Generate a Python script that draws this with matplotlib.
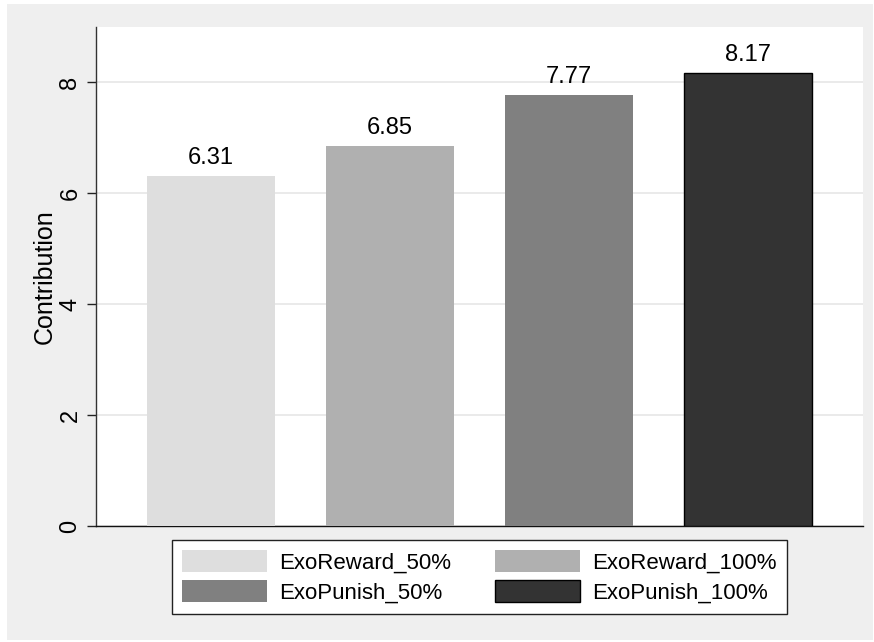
import matplotlib
matplotlib.use("Agg")
import matplotlib.pyplot as plt
from matplotlib.patches import Rectangle

plt.rcParams['font.family'] = ['Liberation Sans', 'DejaVu Sans']

# data
groups = ["ExoReward_50%", "ExoReward_100%", "ExoPunish_50%", "ExoPunish_100%"]
values = [6.31, 6.85, 7.77, 8.17]
colors = ["#dedede", "#b0b0b0", "#808080", "#333333"]
edges = ["none", "none", "none", "#000000"]
yticks = [0, 2, 4, 6, 8]

fig = plt.figure(figsize=(8.74, 6.42), dpi=100, facecolor="white")
W, H = 874, 642
# grey graph region
fig.patches.append(Rectangle((7 / W, 2 / H), 866 / W, 636 / H,
                             transform=fig.transFigure, facecolor="#efefef",
                             edgecolor="none", zorder=-10))

ax = fig.add_axes([96 / W, 1 - 526 / H, (863 - 96) / W, (526 - 27) / H])
ax.set_facecolor("white")

positions = [1, 2, 3, 4]
bars = []
for x, v, c, e, g in zip(positions, values, colors, edges, groups):
    b = ax.bar(x, v, width=0.715, color=c, edgecolor=e, linewidth=1.0,
               label=g, zorder=3)
    bars.append(b)
    ax.annotate(f"{v:.2f}", (x, v), xytext=(0, 5), textcoords="offset points",
                ha="center", va="bottom", fontsize=17)

ax.set_xlim(0.358, 4.642)
ax.set_ylim(0, 8.99)
ax.set_yticks(yticks)
ax.set_yticklabels([str(t) for t in yticks], rotation=90, va="center", fontsize=17)
ax.tick_params(axis="y", length=6.5, width=1, color="#222222", pad=4)
ax.set_xticks([])
ax.grid(axis="y", color="#e6e6e6", linewidth=1.2, zorder=0)
ax.set_axisbelow(True)
for s in ["top", "right"]:
    ax.spines[s].set_visible(False)
ax.spines["left"].set_color("#333333")
ax.spines["bottom"].set_color("#111111")
ax.spines["left"].set_linewidth(1.0)
ax.spines["bottom"].set_linewidth(1.0)
ax.set_ylabel("Contribution", fontsize=18, labelpad=2)

# legend fills column-wise, reorder so rows read Reward / Punish
order = [0, 2, 1, 3]
leg = fig.legend(handles=[bars[i][0] for i in order], labels=[groups[i] for i in order],
                 ncol=2, loc="center", bbox_to_anchor=(479.5 / W, 1 - 577 / H),
                 fontsize=16, frameon=True, fancybox=False,
                 handlelength=3.8, handleheight=1.1, handletextpad=0.55,
                 columnspacing=2.0, labelspacing=0.3, borderpad=0.45,
                 borderaxespad=0)
leg.get_frame().set_edgecolor("#222222")
leg.get_frame().set_linewidth(1.0)
leg.get_frame().set_facecolor("white")
leg.get_frame().set_alpha(1)

fig.savefig("out.png", dpi=100, facecolor=fig.get_facecolor())
plt.close(fig)
